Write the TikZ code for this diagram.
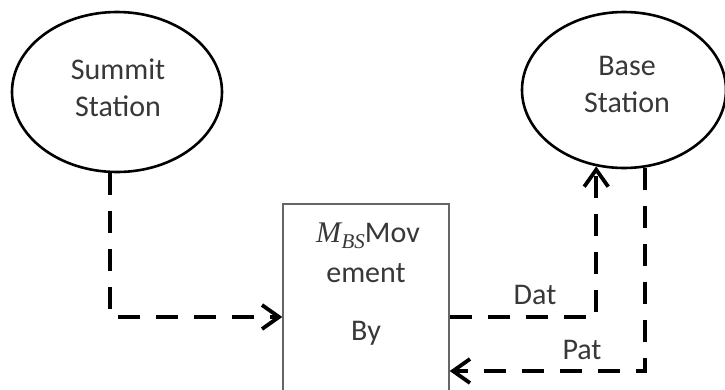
\documentclass[tikz,border=0pt]{standalone}
\usepackage{fontspec}
\setmainfont{Carlito}
\newfontfamily\mathserif{Liberation Serif}
\usetikzlibrary{arrows.meta,shapes.geometric}
\newcommand{\mbsvar}{{\mathserif\itshape M\kern0.5pt\raisebox{-6pt}{\fontsize{21}{21}\selectfont BS}}}
\begin{document}
\begin{tikzpicture}[x=1pt,y=-1pt,
  station/.style={draw=black,line width=2.6pt,ellipse,minimum width=210pt,minimum height=160pt,inner sep=0pt},
  stext/.style={align=center,font=\fontsize{30}{37}\selectfont,text=black!78},
  block/.style={draw=black!60,line width=1.4pt,minimum width=166pt,minimum height=226pt,inner sep=0pt},
  flow/.style={line width=4.5pt,dash pattern=on 22pt off 16pt,-{Straight Barb[length=17pt,width=24pt,line width=3.8pt]}},
  lbl/.style={font=\fontsize{30}{36}\selectfont,text=black!78},
]
\useasboundingbox (0,0) rectangle (725,389);
\fill[white] (0,0) rectangle (725,389);

% stations
\node[station] (summit) at (117,92) {};
\node[stext] at (118,88) {Summit\\Station};
\node[station,minimum width=204pt,minimum height=156pt] (base) at (624,90) {};
\node[stext] at (627,84) {Base\\Station};

% movement block, running off the lower edge
\node[block] (mov) at (366,317) {};
\node[lbl] (l1) at (368,236) {\mbsvar Mov};
\node[lbl] (l2) at (366,273) {ement};
\node[lbl] (l3) at (366,333) {By};

% dashed flows
\draw[flow] (summit.265) |- (mov.west);
\draw[flow] (mov.east) -| (base.250);
\draw[flow] (base.285) |- ([yshift=-54pt]mov.east);

\node[lbl] at (535,295) {Dat};
\node[lbl] at (582,350) {Pat};
\end{tikzpicture}
\end{document}
